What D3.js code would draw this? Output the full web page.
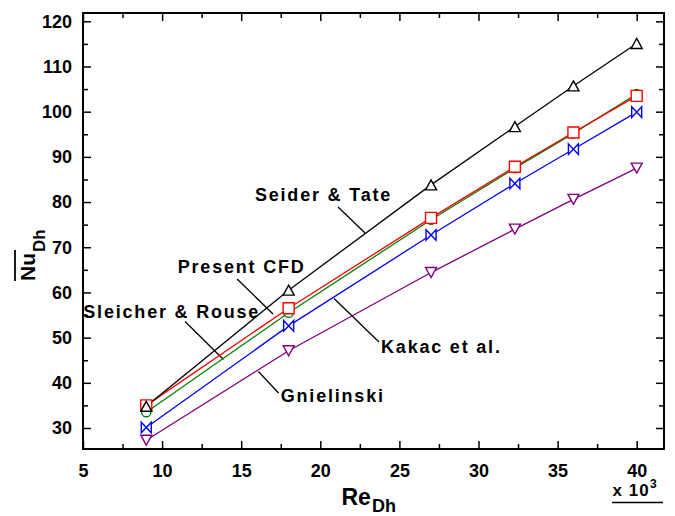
<!DOCTYPE html>
<html>
<head>
<meta charset="utf-8">
<script src="https://cdn.jsdelivr.net/npm/d3@7"></script>
<style>
  html, body { margin: 0; padding: 0; background: #fff; }
  svg { display: block; font-family: "Liberation Sans", Arial, sans-serif; font-weight: bold; }
</style>
</head>
<body>
<svg id="chart" width="675" height="516"></svg>
<script>
// Reynolds number (x 10^3) for each simulated case
const reDh = [9, 18, 27, 32.3, 36, 40];

// Average Nusselt number for each correlation and the CFD result
const seiderTate    = [34.8, 60.5, 83.8, 96.7, 105.7, 115.1];
const presentCFD    = [35.0, 56.5, 76.5, 87.8, 95.4, 103.5];
const sleicherRouse = [33.5, 55.5, 76.1, 87.5, 95.2, 103.9];
const kakac         = [30.1, 52.6, 72.7, 84.1, 91.7, 99.9];
const gnielinski    = [27.3, 47.1, 64.4, 74.0, 80.6, 87.5];

// Tick values
const xMajorTicks = [5, 10, 15, 20, 25, 30, 35, 40];
const xMinorTicks = [7.5, 12.5, 17.5, 22.5, 27.5, 32.5, 37.5];
const yMajorTicks = [30, 40, 50, 60, 70, 80, 90, 100, 110, 120];
const yMinorTicks = [35, 45, 55, 65, 75, 85, 95, 105, 115];

// Series styling (drawn back to front)
const series = [
  { name: "Gnielinski",        values: gnielinski,    color: "#800080", symbol: "triDown" },
  { name: "Kakac et al.",      values: kakac,         color: "#0000ff", symbol: "bowtie" },
  { name: "Sleicher & Rouse",  values: sleicherRouse, color: "#008000", symbol: "circle" },
  { name: "Present CFD",       values: presentCFD,    color: "#ff0000", symbol: "square" },
  { name: "Seider & Tate",     values: seiderTate,    color: "#000000", symbol: "triUp" }
];

// Callout labels with leader lines, in data units (Re x 10^3, Nu)
const callouts = [
  { text: "Seider & Tate",    at: [15.87, 80.3],  from: [21.12, 78.9],  to: [22.83, 73.14] },
  { text: "Present CFD",      at: [10.99, 64.4],  from: [14.74, 62.97], to: [17.01, 55.23] },
  { text: "Sleicher & Rouse", at: [5.02, 54.45],  from: [11.45, 53.57], to: [13.88, 45.16] },
  { text: "Kakac et al.",     at: [23.84, 46.53], from: [20.87, 58.66], to: [23.71, 49.03] },
  { text: "Gnielinski",       at: [17.5, 35.83],  from: [16.09, 42.51], to: [17.36, 37.75] }
];

const svg = d3.select("#chart");
const plotLeft = 83, plotRight = 664, plotTop = 13, plotBottom = 449;

const x = d3.scaleLinear().domain([5, 41.726]).range([plotLeft, plotRight]);
const y = d3.scaleLinear().domain([25.353, 121.837]).range([plotBottom, plotTop]);

// Marker shapes
const symbolPath = {
  triUp:   "M0,-5L5.5,5L-5.5,5Z",
  triDown: "M0,5L5.5,-5L-5.5,-5Z",
  square:  "M-5.5,-5.5H5.5V5.5H-5.5Z",
  bowtie:  "M-5,-5.3L5,5.3V-5.3L-5,5.3Z",
  circle:  d3.arc()({ innerRadius: 0, outerRadius: 4.6, startAngle: 0, endAngle: 2 * Math.PI })
};

// Axes: ticks point inward on all four sides
function styleAxis(g) {
  g.select(".domain").remove();
  g.selectAll(".tick line").attr("stroke", "#000").attr("stroke-width", 1.5);
  g.selectAll(".tick text")
    .attr("fill", "#000")
    .style("font-family", "'Liberation Sans', Arial, sans-serif")
    .style("font-weight", "bold")
    .style("font-size", "18px");
}

svg.append("g").attr("transform", `translate(0,${plotBottom})`)
  .call(d3.axisBottom(x).tickValues(xMajorTicks).tickSize(-8).tickPadding(15).tickFormat(d3.format("d")))
  .call(styleAxis);
svg.append("g").attr("transform", `translate(0,${plotBottom})`)
  .call(d3.axisBottom(x).tickValues(xMinorTicks).tickSize(-5).tickFormat(""))
  .call(styleAxis);
svg.append("g").attr("transform", `translate(0,${plotTop})`)
  .call(d3.axisTop(x).tickValues(xMajorTicks).tickSize(-8).tickFormat(""))
  .call(styleAxis);
svg.append("g").attr("transform", `translate(0,${plotTop})`)
  .call(d3.axisTop(x).tickValues(xMinorTicks).tickSize(-5).tickFormat(""))
  .call(styleAxis);

svg.append("g").attr("transform", `translate(${plotLeft},0)`)
  .call(d3.axisLeft(y).tickValues(yMajorTicks).tickSize(-8).tickPadding(11).tickFormat(d3.format("d")))
  .call(styleAxis);
svg.append("g").attr("transform", `translate(${plotLeft},0)`)
  .call(d3.axisLeft(y).tickValues(yMinorTicks).tickSize(-5).tickFormat(""))
  .call(styleAxis);
svg.append("g").attr("transform", `translate(${plotRight},0)`)
  .call(d3.axisRight(y).tickValues(yMajorTicks).tickSize(-8).tickFormat(""))
  .call(styleAxis);
svg.append("g").attr("transform", `translate(${plotRight},0)`)
  .call(d3.axisRight(y).tickValues(yMinorTicks).tickSize(-5).tickFormat(""))
  .call(styleAxis);

// Plot frame
svg.append("rect")
  .attr("x", plotLeft).attr("y", plotTop)
  .attr("width", plotRight - plotLeft).attr("height", plotBottom - plotTop)
  .attr("fill", "none").attr("stroke", "#000").attr("stroke-width", 2);

// Callout leader lines
svg.append("g").selectAll("line").data(callouts).join("line")
  .attr("x1", d => x(d.from[0])).attr("y1", d => y(d.from[1]))
  .attr("x2", d => x(d.to[0])).attr("y2", d => y(d.to[1]))
  .attr("stroke", "#000").attr("stroke-width", 1.3);

// Series lines, then markers on top
const line = d3.line().x(d => x(d[0])).y(d => y(d[1]));
const lineLayer = svg.append("g");
const markerLayer = svg.append("g");
series.forEach(s => {
  const pts = reDh.map((r, i) => [r, s.values[i]]);
  lineLayer.append("path")
    .attr("d", line(pts))
    .attr("fill", "none")
    .attr("stroke", s.color)
    .attr("stroke-width", 1.3);
});
series.forEach(s => {
  const pts = reDh.map((r, i) => [r, s.values[i]]);
  markerLayer.append("g").selectAll("path").data(pts).join("path")
    .attr("transform", d => `translate(${x(d[0])},${y(d[1])})`)
    .attr("d", symbolPath[s.symbol])
    .attr("fill", "#fff")
    .attr("stroke", s.color)
    .attr("stroke-width", 1.4);
});

// Callout labels
svg.append("g").selectAll("text").data(callouts).join("text")
  .attr("x", d => x(d.at[0])).attr("y", d => y(d.at[1]))
  .attr("font-size", 18)
  .attr("letter-spacing", "1.8px")
  .attr("fill", "#000")
  .text(d => d.text);

// X axis title: Re with subscript Dh
const reText = svg.append("text")
  .attr("x", 341.5).attr("y", 505)
  .attr("font-size", 23).attr("fill", "#000")
  .text("Re");
const reW = reText.node().getComputedTextLength();
svg.append("text")
  .attr("x", 341.5 + reW + 1).attr("y", 511.5)
  .attr("font-size", 18).attr("fill", "#000")
  .text("Dh");

// Scale multiplier under the x axis
const multText = svg.append("text")
  .attr("x", 612.5).attr("y", 496)
  .attr("font-size", 17).attr("letter-spacing", "1px").attr("fill", "#000")
  .text("x 10");
const multW = multText.node().getComputedTextLength();
svg.append("text")
  .attr("x", 612.5 + multW + 0.5).attr("y", 488)
  .attr("font-size", 12).attr("fill", "#000")
  .text("3");
svg.append("line")
  .attr("x1", 612).attr("x2", 663)
  .attr("y1", 502.5).attr("y2", 502.5)
  .attr("stroke", "#000").attr("stroke-width", 1.6);

// Y axis title: Nu (overlined) with subscript Dh
const yTitle = svg.append("g").attr("transform", "translate(35,281) rotate(-90)");
const nuText = yTitle.append("text")
  .attr("x", 0).attr("y", 0)
  .attr("font-size", 21).attr("fill", "#000")
  .text("Nu");
const nuW = nuText.node().getComputedTextLength();
yTitle.append("text")
  .attr("x", nuW + 1).attr("y", 10)
  .attr("font-size", 17).attr("fill", "#000")
  .text("Dh");
yTitle.append("line")
  .attr("x1", 0).attr("x2", nuW + 3)
  .attr("y1", -20).attr("y2", -20)
  .attr("stroke", "#000").attr("stroke-width", 1.8);
</script>
</body>
</html>
